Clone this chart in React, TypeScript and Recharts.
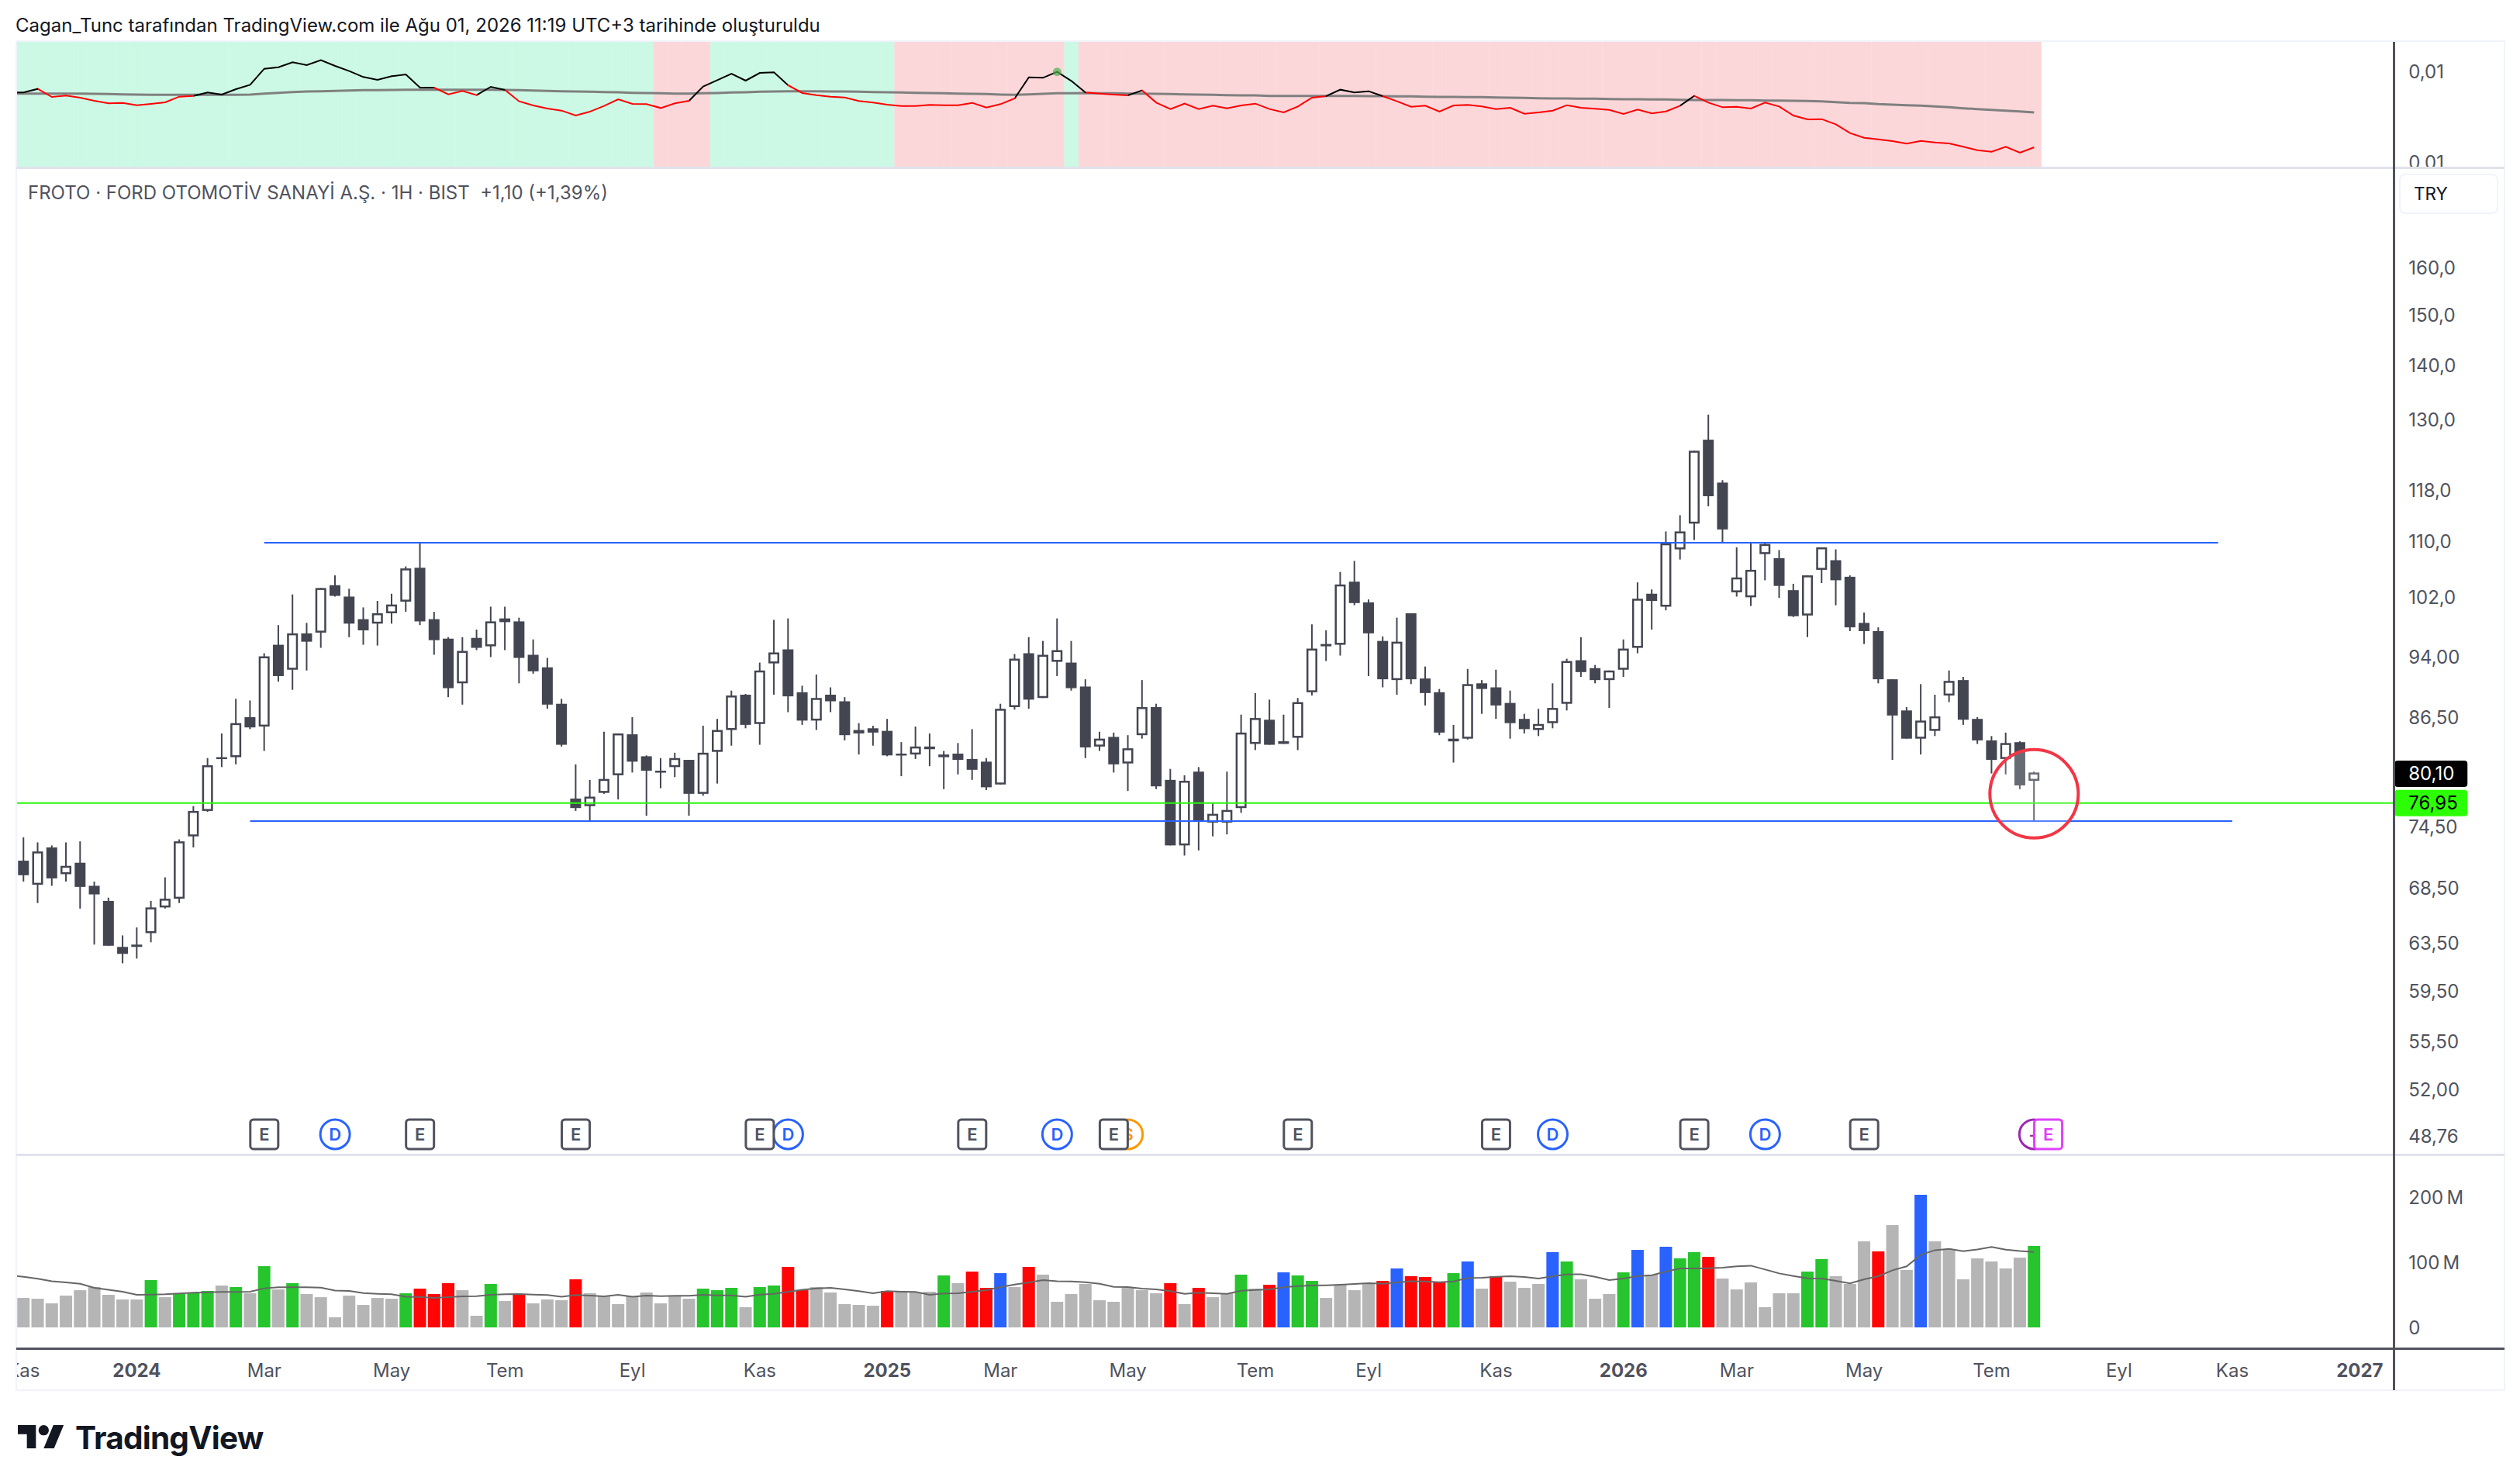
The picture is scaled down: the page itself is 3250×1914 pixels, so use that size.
import React from 'react';
import { ComposedChart, Bar, Line, XAxis, YAxis, ReferenceLine, ReferenceDot } from 'recharts';

const FONT = 'Inter, "Noto Sans", sans-serif';
const SLOT_COUNT = 168;

const candleHigh = [
  73.3,72.8,72.5,72.8,72.9,69.0,67.5,64.1,64.8,67.2,
  69.4,73.1,76.5,81.7,84.5,88.6,88.4,94.3,98.0,102.2,
  98.3,103.1,104.9,103.0,100.4,101.3,102.3,106.2,109.7,99.8,
  96.4,96.4,97.4,100.5,100.5,99.0,96.1,93.7,88.6,81.0,
  79.3,84.7,84.5,86.4,82.0,81.7,82.3,81.5,85.4,86.2,
  89.6,89.2,93.1,98.7,98.9,90.2,91.6,90.0,88.8,85.7,
  85.4,86.2,83.5,85.3,84.5,82.5,83.4,85.0,81.7,88.0,
  94.2,96.4,95.9,98.9,95.9,91.0,84.7,84.6,84.3,90.9,
  88.0,80.5,79.8,80.7,76.8,80.2,86.7,89.3,88.5,86.7,
  88.7,98.1,97.3,105.4,107.0,101.5,96.5,99.0,99.6,92.6,
  89.8,85.5,92.3,90.9,92.2,89.6,86.8,87.4,90.5,93.6,
  96.4,92.8,92.1,96.1,103.9,102.9,111.4,113.9,124.4,130.7,
  119.5,109.0,109.7,109.7,108.6,103.7,104.9,109.0,108.7,104.9,
  99.7,97.7,91.0,87.6,90.4,89.1,92.1,91.3,86.4,84.2,
  84.6,83.6,80.2,
];
const candleLow = [
  69.0,67.0,68.6,69.0,66.5,63.3,63.2,61.7,62.1,63.5,
  66.5,67.0,72.3,75.9,80.7,81.0,85.0,82.5,90.7,89.7,
  92.1,95.0,101.9,96.4,95.4,95.3,98.2,99.8,98.0,94.1,
  88.8,87.9,94.7,93.8,94.7,90.5,91.7,87.4,83.0,76.0,
  75.0,77.8,77.2,80.1,75.5,78.4,79.6,75.5,77.6,78.9,
  83.1,85.1,83.2,89.1,87.0,85.5,84.9,87.0,83.7,82.1,
  83.1,81.9,79.7,81.6,80.8,78.3,79.9,79.3,78.2,78.8,
  87.3,87.4,88.7,91.4,89.6,81.7,82.5,80.1,78.1,83.9,
  78.3,72.5,71.5,72.0,73.4,73.6,75.8,82.6,83.2,83.3,
  82.6,89.0,93.3,94.0,100.7,91.4,90.0,89.1,90.4,87.8,
  84.3,81.2,83.8,86.8,86.2,83.9,84.5,84.2,85.1,87.2,
  91.3,90.5,87.5,91.3,94.3,97.4,100.0,107.2,110.1,115.3,
  109.7,101.9,100.6,104.2,101.7,99.1,96.4,103.8,100.7,97.2,
  95.5,90.5,81.5,83.9,82.1,84.2,88.2,85.5,83.3,80.0,
  79.9,78.3,75.0,
];
const candleOpen = [
  71.0,68.7,72.3,69.7,70.8,68.6,67.2,63.1,63.3,64.3,
  66.6,67.4,73.4,76.0,81.8,81.8,86.4,85.3,95.4,92.2,
  96.9,97.0,103.5,101.9,98.8,98.2,99.6,101.2,106.0,98.8,
  96.2,90.5,96.3,95.2,98.9,98.5,94.1,92.5,88.0,77.3,
  76.5,77.9,79.8,84.4,81.9,80.3,80.7,81.5,77.8,82.4,
  84.9,89.1,85.6,93.0,94.8,89.4,86.0,89.1,88.3,84.5,
  85.1,84.8,82.2,82.1,83.0,82.1,82.2,81.6,81.3,78.8,
  87.6,94.3,88.7,93.2,93.1,90.1,83.0,84.1,81.1,84.3,
  87.6,79.3,72.5,80.2,74.8,74.8,76.3,83.3,86.1,83.6,
  84.0,89.4,95.5,95.4,104.0,101.1,95.9,90.9,99.6,91.1,
  89.4,83.6,83.9,90.5,90.0,88.1,86.2,84.9,85.7,88.0,
  93.4,92.4,90.9,92.2,95.0,102.3,100.5,108.7,112.6,126.3,
  119.1,102.5,101.8,108.0,107.4,102.8,99.3,105.7,107.1,104.7,
  98.3,97.2,91.0,87.2,83.9,84.8,89.0,90.9,86.2,83.7,
  81.6,83.5,79.2,
];
const candleClose = [
  69.6,71.9,69.3,70.5,68.5,67.8,63.2,62.5,63.1,66.6,
  67.4,72.9,76.0,80.9,81.6,85.7,85.2,93.9,91.4,96.9,
  95.8,103.1,102.0,98.2,97.3,99.6,100.8,105.9,98.5,96.0,
  89.9,94.6,95.0,98.5,98.4,93.7,92.0,87.9,83.2,76.3,
  77.5,79.4,84.5,81.3,80.3,80.1,81.7,77.8,82.3,84.9,
  89.0,85.5,92.1,94.4,88.9,86.0,88.7,88.3,84.3,84.9,
  84.6,82.0,82.1,83.0,82.7,81.8,81.5,80.4,78.5,87.4,
  93.6,88.5,94.1,94.7,89.9,82.9,83.9,81.0,82.8,87.6,
  78.6,72.5,79.2,74.9,75.7,76.1,84.6,86.3,83.2,83.3,
  88.2,94.9,95.2,103.6,101.0,96.9,91.0,95.8,91.0,89.3,
  84.6,83.9,90.4,89.8,87.8,85.7,85.0,85.6,87.5,93.3,
  91.9,90.9,92.1,94.9,101.6,101.3,109.6,111.4,124.4,116.9,
  111.7,104.6,105.7,109.5,103.4,99.2,104.9,109.0,104.2,97.7,
  97.2,91.0,86.6,83.9,86.0,86.5,90.8,86.1,83.7,81.5,
  83.4,78.7,80.1,
];

const volumeM = [
  45.2,44,36.9,48.8,57.1,61.9,50,42.9,42.9,72.6,
  46.4,51.2,53.6,56,64.3,61.9,52.4,94,58.3,67.9,
  51.2,46.4,15.5,48.8,34.5,45.2,44,52.4,59.5,51.2,
  67.9,57.1,17.9,66.7,40.5,51.2,36.9,42.9,41.7,73.8,
  52.4,47.6,35.7,47.6,53.6,36.9,48.8,44,59.5,57.1,
  60.7,31,61.9,64.3,92.9,57.1,61.9,53.6,35.7,34.5,
  33.3,56,56,53.6,54.8,79.8,67.9,85.7,60.7,83.3,
  61.9,92.9,81,39.3,51.2,66.7,41.7,39.3,60.7,57.1,
  52.4,67.9,35.7,60.7,46.4,52.4,81,59.5,65.5,84.5,
  79.8,71.4,45.2,65.5,57.1,66.7,71.4,90.5,78.6,77.4,
  70.2,83.3,101.2,59.5,78.6,70.2,60.7,66.7,115.5,101.2,
  73.8,44,51.2,84.5,119,81,123.8,106,115.5,108.3,
  75,58.3,69,31,52.4,52.4,85.7,104.8,78.6,66.7,
  132.1,116.7,157.1,88.1,203.6,132.1,119,73.8,106,101.2,
  90.5,107.1,125,
];
const volumeKinds = [
  'gggggggggG','gGGGgGgGgG','gggggggGRR','RggGgRgggR','ggggggggGG',
  'GgGGRRgggg','gRgggGgRRB','gRgggggggg','gRgRggGgRB','GGggggRBRR',
  'RGBgRgggBG','gggGBgBGGR','ggggggGGgg','gRggBggggg','ggG',
].join('');
const volumeAverageM = [
  77.8,74.6,71,69,67,60.7,57.9,54.8,50,50.4,
  50.8,52,53.2,54,54.4,54.4,54.8,60,61.5,61.5,
  61.5,61.1,56.7,56,52.8,51.6,50.8,47.2,46.8,45.2,
  46.4,47.6,48,50,50.8,51.2,50.4,49.6,47.2,49.6,
  48.8,47.6,50,47.2,48.8,48,48.4,48.4,50,49.2,
  49.2,47.2,50.4,51.6,54.8,57.9,59.9,60.7,58.3,55.6,
  52.4,55.6,54.8,54.4,50,52,52.4,54.8,57.1,61.9,
  65.9,69,72.6,71,70.6,69.4,67.1,62.3,61.9,59.5,
  58.3,55.6,51.6,53.2,52.4,51.6,56.3,57.5,58.3,61.5,
  63.5,64.3,64.7,65.5,66.7,67.9,67.1,69,71,70.6,
  69.4,70.6,75.8,76.2,77.8,78.6,77.4,75,78.6,81.3,
  81.7,77.8,72.6,75,78.6,80.2,85.7,90.5,90.5,90.9,
  91.7,93.7,94.8,88.9,82.9,79,75.4,75,71.4,67.5,
  73.8,78.6,87.7,93.7,111.5,118.6,120.6,117,119.8,123.4,
  119.4,117.4,115.9,
];

const indicatorLine = [
  535,549,518,523,515,503,493,495,486,491,
  497,519,522,535,527,548,565,627,633,652,
  641,660,638,618,595,584,598,605,554,554,
  528,541,525,557,545,501,485,473,465,446,
  461,483,509,491,490,475,493,503,558,583,
  608,581,611,613,563,533,525,519,516,502,
  496,488,483,483,487,486,486,495,477,490,
  512,594,592,615,580,535,531,527,524,543,
  496,471,492,471,484,474,485,492,471,458,
  481,515,521,546,535,540,521,501,480,484,
  461,485,487,481,471,476,453,458,465,486,
  476,472,468,452,469,454,462,484,522,496,
  478,480,473,496,481,446,431,432,412,378,
  360,354,347,337,348,342,338,325,312,306,
  325,302,323,
];
const indicatorAverage = [
  531,531,531,531,531,530,529,528,527,526,
  526,526,526,526,526,526,527,531,534,537,
  539,540,541,543,544,544,545,546,546,546,
  546,546,546,546,545,544,543,541,540,539,
  538,537,536,534,533,532,531,531,532,533,
  535,536,538,539,540,540,540,539,539,538,
  537,536,535,534,533,532,531,530,529,527,
  526,528,530,532,532,533,532,532,531,531,
  530,529,528,527,526,525,524,524,522,522,
  522,522,522,522,522,521,521,520,520,519,
  518,518,517,517,516,515,514,513,512,512,
  511,511,510,509,509,508,508,507,506,506,
  506,505,505,504,504,503,502,501,498,495,
  494,490,488,486,484,481,478,474,471,468,
  465,462,458,
];
// The week just left of the visible window: only its line values enter the picture.
const leadSlot = { slot: -1, line: 535, lineAvg: 531, volumeAvg: 79.8 };
const regimeStarts = [0, 45, 49, 62, 74, 75];
const regimeKinds = ['up', 'down', 'up', 'down', 'up', 'down'];

const priceTickValues = [160,150,140,130,118,110,102,94,86.5,80.1,76.95,74.5,68.5,63.5,59.5,55.5,52,48.76];
const priceTickLabels = ['160,0','150,0','140,0','130,0','118,0','110,0','102,0','94,00','86,50','80,10','76,95','74,50','68,50','63,50','59,50','55,50','52,00','48,76'];
const volumeTickValues = [0, 100, 200];
const volumeTickLabels = ['0', '100\u202fM', '200\u202fM'];
const indicatorTickValues = [614, 263];
const indicatorTickLabels = ['0,01', '0,01'];
const timeTickSlots = [0,8,17,26,34,43,52,61,69,78,87,95,104,113,121,130,139,148,156,165];
const timeTickLabels = ['Kas','2024','Mar','May','Tem','Eyl','Kas','2025','Mar','May','Tem','Eyl','Kas','2026','Mar','May','Tem','Eyl','Kas','2027'];

const earningsSlots = [17,28,39,52,67,77,90,104,118,130];
const dividendSlots = [22,54,73,108,123];
const splitSlots = [78];
const upcomingDividendSlots = [142];
const upcomingEarningsSlots = [143];

const RESISTANCE = 109.7;
const SUPPORT = 74.95;
const LAST_MARK = 76.95;
const LAST_MARK_LINE = 76.82;
const CIRCLE_PRICE = 77.8;
const EVENT_ROW_PRICE = 48.83;

const regimeAt = (i: number) => {
  let kind = regimeKinds[0];
  regimeStarts.forEach((s, k) => { if (i >= s) kind = regimeKinds[k]; });
  return kind;
};

const rows = [leadSlot as any, ...Array.from({ length: SLOT_COUNT }, (_, i) => {
  const has = i < candleHigh.length;
  return {
    slot: i,
    high: has ? candleHigh[i] : null,
    low: has ? candleLow[i] : null,
    open: has ? candleOpen[i] : null,
    close: has ? candleClose[i] : null,
    range: has ? [candleLow[i], candleHigh[i]] : null,
    volume: has ? volumeM[i] : null,
    volumeAvg: has ? volumeAverageM[i] : null,
    kind: has ? volumeKinds[i] : null,
    line: has ? indicatorLine[i] : null,
    lineAvg: has ? indicatorAverage[i] : null,
    regime: has ? regimeAt(i) : null,
    band: has ? 731 : null,
  };
})];

const AXIS = '#50535e';
const INK = '#434651';

const Candle = (props: any) => {
  const { x, y, width, height, payload } = props;
  if (payload.high == null) return null;
  const top = Math.min(y, y + height);
  const h = Math.abs(height);
  const logH = Math.log(payload.high);
  const logL = Math.log(payload.low);
  const toY = (v: number) => top + (h * (logH - Math.log(v))) / (logH - logL);
  const cx = x + width / 2;
  const bodyTop = toY(Math.max(payload.open, payload.close));
  const bodyBottom = toY(Math.min(payload.open, payload.close));
  const up = payload.close > payload.open;
  return (
    <g>
      <line x1={cx} x2={cx} y1={top} y2={top + h} stroke={INK} strokeWidth={2} />
      {up ? (
        <rect x={x + 1.25} y={bodyTop + 1.25} width={width - 2.5} height={Math.max(bodyBottom - bodyTop - 2.5, 1)} fill="#fff" stroke={INK} strokeWidth={2.5} />
      ) : (
        <rect x={x} y={bodyTop} width={width} height={Math.max(bodyBottom - bodyTop, 2.5)} fill={INK} />
      )}
    </g>
  );
};

const RegimeBand = (props: any) => {
  const { x, y, width, height, payload } = props;
  if (payload.regime == null) return null;
  return <rect x={x} y={y} width={width + 0.6} height={height} fill={payload.regime === 'up' ? '#ccf9e5' : '#fcd7da'} />;
};

const KIND_FILL: Record<string, string> = { g: '#b5b5b5', G: '#26c42d', R: '#ff0505', B: '#2962ff' };
const VolumeBar = (props: any) => {
  const { x, y, width, height, payload } = props;
  if (payload.kind == null) return null;
  return <rect x={x} y={y} width={width} height={height} fill={KIND_FILL[payload.kind]} />;
};

const axisText = { fontFamily: FONT, fontSize: 24, fill: AXIS } as const;

const labelTick = (values: number[], labels: string[]) => (props: any) => {
  const { x, y, payload } = props;
  const label = labels[values.indexOf(payload.value)];
  return <text x={x} y={y} dominantBaseline="central" {...axisText}>{label}</text>;
};

const PriceTick = (props: any) => {
  const { x, payload } = props;
  const y = props.y + 1.5;
  const label = priceTickLabels[priceTickValues.indexOf(payload.value)];
  if (payload.value === 80.1 || payload.value === LAST_MARK) {
    const dark = payload.value === 80.1;
    return (
      <g>
        <rect x={x - 18} y={y - 17} width={94} height={34} rx={4} fill={dark ? '#000' : '#2cff05'} />
        <text x={x} y={y} dominantBaseline="central" {...axisText} fill={dark ? '#fff' : '#000'}>{label}</text>
      </g>
    );
  }
  return <text x={x} y={y} dominantBaseline="central" {...axisText}>{label}</text>;
};

const TimeTick = (props: any) => {
  const { x, y, payload } = props;
  const label = timeTickLabels[timeTickSlots.indexOf(payload.value)];
  const isYear = /^\d+$/.test(label);
  return (
    <text x={x} y={y + 29} textAnchor="middle" dominantBaseline="central" {...axisText} fontWeight={isYear ? 700 : 400}>{label}</text>
  );
};

const eventBox = (color: string) => (props: any) => (
  <g>
    <rect x={props.cx - 18} y={props.cy - 19} width={36} height={38} rx={4} fill="#fff" stroke={color} strokeWidth={3} />
    <text x={props.cx} y={props.cy} textAnchor="middle" dominantBaseline="central" fontFamily={FONT} fontSize={22} fontWeight={600} fill={color}>E</text>
  </g>
);
const eventCircle = (color: string, letter: string) => (props: any) => (
  <g>
    <circle cx={props.cx} cy={props.cy} r={19} fill="#fff" stroke={color} strokeWidth={3} />
    <text x={props.cx} y={props.cy} textAnchor="middle" dominantBaseline="central" fontFamily={FONT} fontSize={22} fontWeight={600} fill={color}>{letter}</text>
  </g>
);

const lineColor = (i: number) => (indicatorLine[i] >= indicatorAverage[i] ? '#000000' : '#ff0000');
const segmentCount = indicatorLine.length;

const SLOT_W = 18.26;
const AXIS_W = 141.3;
const CHART_W = 3209 + SLOT_W;
const margin = { top: 0, right: 0, bottom: 0, left: 0 };

const Pane = ({ top, height, children }: any) => (
  <div style={{ position: 'absolute', left: 21, top, width: 3209, height, overflow: 'hidden' }}>
    <div style={{ position: 'absolute', left: -SLOT_W, top: 0, width: CHART_W, height }}>{children}</div>
  </div>
);
const Rule = ({ left, top, width, height, color }: any) => (
  <div style={{ position: 'absolute', left, top, width, height, background: color }} />
);

export default function App() {
  return (
    <div style={{ position: 'absolute', left: 0, top: 0, width: 3250, height: 1914, background: '#fff', overflow: 'hidden', fontFamily: FONT }}>
      <div style={{ position: 'absolute', left: 20, top: 18, fontSize: 24, lineHeight: '30px', color: '#131722', whiteSpace: 'nowrap' }}>
        Cagan_Tunc tarafından TradingView.com ile Ağu 01, 2026 11:19 UTC+3 tarihinde oluşturuldu
      </div>

      <Pane top={54} height={162}>
        <ComposedChart width={CHART_W} height={162} data={rows} margin={margin} barCategoryGap={0} barGap={0}>
          <defs>
            <linearGradient id="lineSplit" x1="0" y1="0" x2="1" y2="0">
              {indicatorLine.map((_, i) => (
                <React.Fragment key={i}>
                  <stop offset={i / segmentCount} stopColor={lineColor(i)} />
                  <stop offset={(i + 1) / segmentCount} stopColor={lineColor(i)} />
                </React.Fragment>
              ))}
            </linearGradient>
          </defs>
          <XAxis dataKey="slot" hide />
          <YAxis orientation="right" width={AXIS_W} domain={[245, 731]} allowDataOverflow ticks={indicatorTickValues} interval={0} tickSize={0} tickMargin={17.3} axisLine={false} tickLine={false} tick={labelTick(indicatorTickValues, indicatorTickLabels)} />
          <Bar dataKey="band" shape={RegimeBand} isAnimationActive={false} />
          <Line dataKey="lineAvg" stroke="#808080" strokeWidth={3} dot={false} isAnimationActive={false} />
          <Line dataKey="line" stroke="url(#lineSplit)" strokeWidth={2} dot={false} isAnimationActive={false} />
          <ReferenceDot x={73} y={615} r={5.5} fill="#4caf50" fillOpacity={0.7} stroke="none" />
        </ComposedChart>
      </Pane>

      <Pane top={218} height={1271}>
        <ComposedChart width={CHART_W} height={1271} data={rows} margin={margin}>
          <XAxis dataKey="slot" hide />
          <YAxis orientation="right" width={AXIS_W} scale="log" domain={[47.5, 182.9]} allowDataOverflow ticks={priceTickValues} interval={0} tickSize={0} tickMargin={17.3} axisLine={false} tickLine={false} tick={PriceTick} />
          <Bar dataKey="range" barSize={14} shape={Candle} isAnimationActive={false} />
          <ReferenceLine y={LAST_MARK_LINE} stroke="#29f70a" strokeWidth={2} />
          <ReferenceLine segment={[{ x: 17, y: RESISTANCE }, { x: 155, y: RESISTANCE }]} stroke="#2962ff" strokeWidth={2} />
          <ReferenceLine segment={[{ x: 16, y: SUPPORT }, { x: 156, y: SUPPORT }]} stroke="#2962ff" strokeWidth={2} />
          <ReferenceDot x={142} y={CIRCLE_PRICE} r={57} fill="#ffffff" fillOpacity={0.2} stroke="#f23645" strokeWidth={4} />
          {dividendSlots.map((s) => <ReferenceDot key={'d' + s} x={s} y={EVENT_ROW_PRICE} ifOverflow="visible" shape={eventCircle('#2962ff', 'D')} />)}
          {splitSlots.map((s) => <ReferenceDot key={'s' + s} x={s} y={EVENT_ROW_PRICE} ifOverflow="visible" shape={eventCircle('#ff9800', 'S')} />)}
          {upcomingDividendSlots.map((s) => <ReferenceDot key={'u' + s} x={s} y={EVENT_ROW_PRICE} ifOverflow="visible" shape={eventCircle('#9c27b0', '+')} />)}
          {earningsSlots.map((s) => <ReferenceDot key={'e' + s} x={s} y={EVENT_ROW_PRICE} ifOverflow="visible" shape={eventBox(AXIS)} />)}
          {upcomingEarningsSlots.map((s) => <ReferenceDot key={'n' + s} x={s} y={EVENT_ROW_PRICE} ifOverflow="visible" shape={eventBox('#e040fb')} />)}
        </ComposedChart>
      </Pane>

      <Pane top={1491} height={302}>
        <ComposedChart width={CHART_W} height={302} data={rows} margin={margin}>
          <XAxis dataKey="slot" height={54} ticks={timeTickSlots} interval={0} tickSize={0} tickMargin={0} axisLine={false} tickLine={false} tick={TimeTick} />
          <YAxis orientation="right" width={AXIS_W} domain={[-32.1, 263.1]} allowDataOverflow ticks={volumeTickValues} interval={0} tickSize={0} tickMargin={17.3} axisLine={false} tickLine={false} tick={labelTick(volumeTickValues, volumeTickLabels)} />
          <Bar dataKey="volume" barSize={16} shape={VolumeBar} isAnimationActive={false} />
          <Line dataKey="volumeAvg" stroke="#666666" strokeWidth={2} dot={false} isAnimationActive={false} />
        </ComposedChart>
      </Pane>

      <Rule left={21} top={52} width={3209} height={2} color="#f0f3fa" />
      <Rule left={20} top={54} width={2} height={1740} color="#f0f3fa" />
      <Rule left={3229} top={52} width={2} height={1742} color="#f0f3fa" />
      <Rule left={21} top={1792} width={3209} height={2} color="#f0f3fa" />
      <Rule left={21} top={215} width={3209} height={3} color="#e0e3eb" />
      <Rule left={21} top={1488} width={3209} height={3} color="#e0e3eb" />
      <Rule left={3086} top={54} width={2.5} height={1739} color={AXIS} />
      <Rule left={21} top={1738} width={3209} height={3} color={AXIS} />

      <div style={{ position: 'absolute', left: 36, top: 234, fontSize: 24, lineHeight: '30px', color: AXIS, whiteSpace: 'pre' }}>
        FROTO · FORD OTOMOTİV SANAYİ A.Ş. · 1H · BIST  +1,10 (+1,39%)
      </div>
      <div style={{ position: 'absolute', left: 3094, top: 224, width: 128, height: 52, boxSizing: 'border-box', border: '2px solid #f0f3fa', borderRadius: 8, fontSize: 22.5, lineHeight: '48px', paddingLeft: 17, color: '#131722', background: '#fff' }}>TRY</div>

      <svg style={{ position: 'absolute', left: 23, top: 1838 }} width={60} height={30} viewBox="0 0 36 18">
        <path d="M14 18H7V7H0V0h14v18zM28 18h-8l7.5-18h8L28 18z" fill="#131722" />
        <circle cx={20} cy={4} r={4} fill="#131722" />
      </svg>
      <div style={{ position: 'absolute', left: 97, top: 1830, fontSize: 40.6, lineHeight: '50px', fontWeight: 700, color: '#131722', letterSpacing: -0.8, whiteSpace: 'nowrap' }}>TradingView</div>
    </div>
  );
}
